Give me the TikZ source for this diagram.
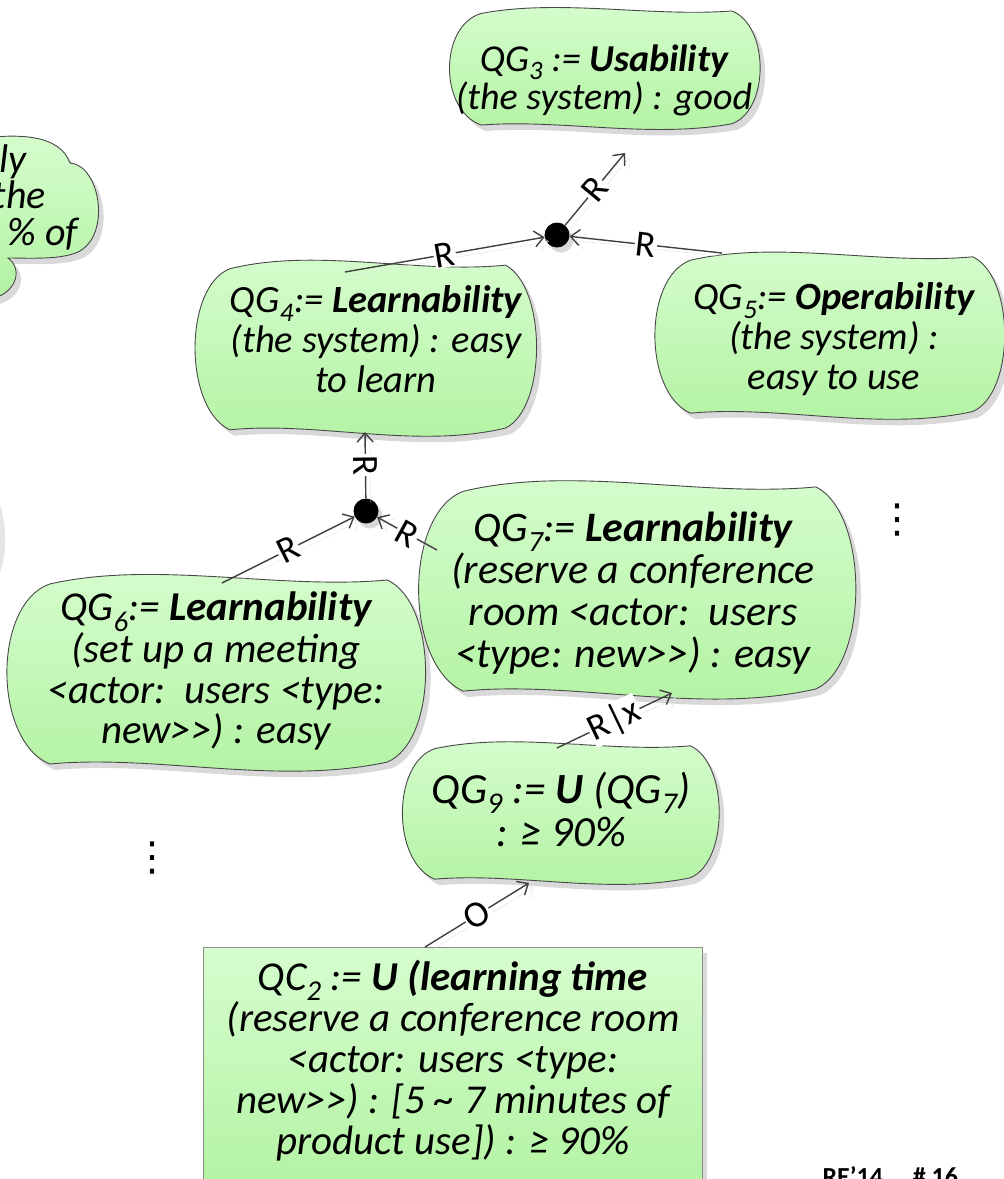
\documentclass[tikz,border=0pt]{standalone}
\usepackage{fontspec}
\setmainfont{Carlito}
\newfontfamily\dotsfont{DejaVu Sans}
\usetikzlibrary{arrows.meta,shadows,positioning}

\definecolor{qgtop}{RGB}{214,253,206}
\definecolor{qgbottom}{RGB}{178,243,162}
\definecolor{qgline}{RGB}{72,72,72}
\definecolor{linkgray}{RGB}{64,64,64}

\newcommand\goalfont{\fontsize{38.5}{40}\selectfont\itshape}
\newcommand\linkfont{\fontsize{37}{38}\selectfont}

% wavy goal shape between (x1,y1) and (x2,y2), y grows downwards
\newcommand\drawgoal[4]{%
  \pgfmathsetmacro\gw{#3-#1}\pgfmathsetmacro\gh{#4-#2}%
  \draw[goalshape] ({#1+0.09*\gw},{#2+0.06*\gh})
    .. controls ({#1+0.35*\gw},{#2-0.06*\gh}) and ({#1+0.65*\gw},{#2+0.09*\gh}) .. ({#3-0.08*\gw},{#2+0.04*\gh})
    .. controls ({#3+0.045*\gw},{#2+0.16*\gh}) and ({#3+0.045*\gw},{#4-0.16*\gh}) .. ({#3-0.08*\gw},{#4-0.05*\gh})
    .. controls ({#3-0.35*\gw},{#4+0.07*\gh}) and ({#1+0.35*\gw},{#4-0.09*\gh}) .. ({#1+0.09*\gw},{#4-0.04*\gh})
    .. controls ({#1-0.05*\gw},{#4-0.16*\gh}) and ({#1-0.05*\gw},{#2+0.16*\gh}) .. cycle;}

\begin{document}
\begin{tikzpicture}[x=1pt, y=-1pt,
  goalshape/.style={draw=qgline, line width=0.9pt, top color=qgtop, bottom color=qgbottom,
    drop shadow={shadow xshift=5pt, shadow yshift=-6pt, fill=black!15, opacity=1}},
  goal/.style={align=center, inner sep=0pt, font=\goalfont},
  junction/.style={circle, fill=black, minimum size=25pt, inner sep=0pt,
    drop shadow={shadow xshift=4pt, shadow yshift=-5pt, fill=black!15, opacity=1}},
  link/.style={draw=linkgray, line width=1.4pt,
    -{Straight Barb[length=9pt, width=16pt]},
    preaction={draw=black!12, transform canvas={shift={(5pt,-4pt)}}}},
  linklabel/.style={sloped, fill=white, inner sep=1pt, font=\linkfont}]

  \useasboundingbox (0,0) rectangle (1004,1179);
  \clip (0,0) rectangle (1004,1179);

  % goal that runs off the left edge
  \draw[goalshape] (-30,140) .. controls (20,132) and (60,135) .. (70,163)
    .. controls (100,165) and (112,235) .. (78,252)
    .. controls (60,260) and (30,258) .. (8,258)
    .. controls (22,268) and (18,290) .. (-5,298) -- (-30,298) -- cycle;
  \node[goal, anchor=base east, font=\fontsize{40}{40}\selectfont\itshape] (cutA) at (27,172) {lly};
  \node[goal, anchor=base east, font=\fontsize{40}{40}\selectfont\itshape] (cutB) at (46,208) {the};
  \node[goal, anchor=base east, font=\fontsize{40}{40}\selectfont\itshape] (cutC) at (78,245) {\% of};
  \fill[black!10] (0,505) .. controls (7,525) and (7,555) .. (0,572) -- cycle;

  % goal outlines
  \drawgoal{454}{6}{756}{130}    % QG3
  \drawgoal{200}{258}{532}{437}  % QG4
  \drawgoal{660}{250}{1000}{420} % QG5
  \drawgoal{13}{572}{420}{772}   % QG6
  \drawgoal{425}{478}{850}{700}  % QG7
  \drawgoal{407}{740}{715}{885}  % QG9
  \draw[goalshape, draw=black!45] (203,947) rectangle (702,1195); % QC2

  % texts
  \node[goal, font=\fontsize{38}{38}\selectfont\itshape] (qg3) at (604,80) {QG\textsubscript{3} := \textbf{Usability}\\(the system) : good};
  \node[goal] (qg4) at (376,339) {QG\textsubscript{4}:= \textbf{Learnability}\\(the system) : easy\\to learn};
  \node[goal] (qg5) at (834,339) {QG\textsubscript{5}:= \textbf{Operability}\\(the system) :\\easy to use};
  \node[goal, font=\fontsize{41}{40.5}\selectfont\itshape] (qg6) at (216,671) {QG\textsubscript{6}:= \textbf{Learnability}\\(set up a meeting\\<actor:\ \ users <type:\\new>{}>) : easy};
  \node[goal, font=\fontsize{42}{42}\selectfont\itshape] (qg7) at (633,593) {QG\textsubscript{7}:= \textbf{Learnability}\\(reserve a conference\\room <actor:\ \ users\\<type: new>{}>) : easy};
  \node[goal, font=\fontsize{43}{43}\selectfont\itshape] (qg9) at (561,809) {QG\textsubscript{9} := \textbf{U} (QG\textsubscript{7})\\: ≥ 90\%};
  \node[goal, font=\fontsize{41}{41}\selectfont\itshape] (qc2) at (453,1061) {QC\textsubscript{2} := \textbf{U (learning time}\\(reserve a conference room\\<actor: users <type:\\new>{}>) : [5 \textasciitilde{} 7 minutes of\\product use]) : ≥ 90\%};

  \node[font=\dotsfont\fontsize{40}{40}\selectfont] (more1) at (897,520) {⋮};
  \node[font=\dotsfont\fontsize{40}{40}\selectfont] (more2) at (152,858) {⋮};

  % and-junctions
  \node[junction] (and1) at (557,235) {};
  \node[junction] (and2) at (366,511) {};

  % refinement links
  \draw[link] ([shift={(-31,-67)}]qg4.center) -- node[linklabel] {R} (and1);
  \draw[link] ([shift={(-112,-86)}]qg5.center) -- node[linklabel] {R} (and1);
  \draw[link] (and1) -- node[linklabel] {R} ([shift={(21,73)}]qg3.center);
  \draw[link] ([shift={(6,-88)}]qg6.center) -- node[linklabel] {R} (and2);
  \draw[link] ([shift={(-196,-43)}]qg7.center) -- node[linklabel] {R} (and2);
  \draw[link] (and2) -- node[linklabel] {R} ([shift={(-11,93)}]qg4.center);
  \draw[link] ([shift={(-4,-61)}]qg9.center) -- node[linklabel] {R|x} ([shift={(39,100)}]qg7.center);
  \draw[link] ([shift={(-28,-114)}]qc2.center) -- node[linklabel] {O} ([shift={(-32,74)}]qg9.center);

  \node[anchor=base west, font=\bfseries\fontsize{26}{28}\selectfont] (slide) at (819,1185) {RE’14\hspace{30pt}\# 16};
\end{tikzpicture}
\end{document}
